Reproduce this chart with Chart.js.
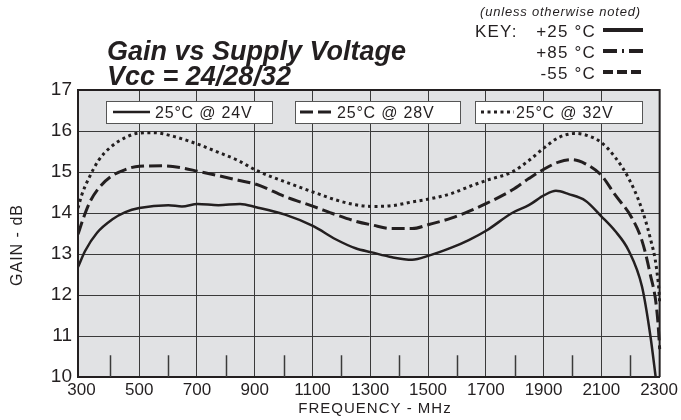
<!DOCTYPE html>
<html>
<head>
<meta charset="utf-8">
<script src="https://cdn.jsdelivr.net/npm/chart.js@4/dist/chart.umd.min.js"></script>
<style>
  body { margin: 0; background: #ffffff; }
  #chart { display: block; }
</style>
</head>
<body>
<canvas id="chart" width="681" height="420"></canvas>
<script>
// tick labels
var xTicks = [300, 500, 700, 900, 1100, 1300, 1500, 1700, 1900, 2100, 2300];
var xMinorTicks = [400, 600, 800, 1000, 1200, 1400, 1600, 1800, 2000, 2200];
var yTicks = [10, 11, 12, 13, 14, 15, 16, 17];

var seriesNames = ["25°C @ 24V", "25°C @ 28V", "25°C @ 32V"];

// 24V (solid)
var freq24 = [288, 313, 354, 406, 452, 500, 601, 648, 702, 774, 849, 905, 1005, 1103, 1180, 1249, 1305, 1376, 1445, 1503, 1583, 1641, 1704, 1791, 1849, 1904, 1943, 1987, 2045, 2100, 2148, 2195, 2241, 2270, 2290];
var gain24 = [12.68, 13.08, 13.52, 13.84, 14.02, 14.12, 14.19, 14.16, 14.22, 14.19, 14.22, 14.14, 13.96, 13.68, 13.36, 13.14, 13.04, 12.92, 12.86, 12.96, 13.16, 13.34, 13.58, 14.00, 14.19, 14.44, 14.54, 14.46, 14.30, 13.92, 13.56, 13.08, 12.20, 11.00, 9.9];

// 28V (dashed)
var freq28 = [288, 307, 330, 359, 400, 452, 500, 578, 648, 702, 774, 843, 905, 1005, 1103, 1180, 1249, 1305, 1376, 1445, 1503, 1583, 1641, 1704, 1791, 1849, 1904, 1952, 1998, 2045, 2100, 2148, 2206, 2241, 2269, 2292, 2302, 2306];
var gain28 = [13.48, 13.88, 14.28, 14.60, 14.88, 15.06, 15.14, 15.15, 15.10, 15.02, 14.91, 14.80, 14.70, 14.40, 14.16, 13.96, 13.80, 13.71, 13.62, 13.62, 13.72, 13.88, 14.04, 14.24, 14.56, 14.84, 15.08, 15.24, 15.30, 15.20, 14.92, 14.44, 13.88, 13.32, 12.52, 11.64, 10.68, 10.0];

// 32V (dotted)
var freq32 = [288, 301, 325, 359, 400, 452, 500, 549, 613, 702, 774, 843, 905, 1005, 1103, 1180, 1249, 1305, 1376, 1445, 1503, 1583, 1641, 1704, 1791, 1849, 1904, 1952, 2010, 2056, 2100, 2148, 2195, 2235, 2269, 2292, 2302, 2310];
var gain32 = [14.12, 14.44, 14.84, 15.28, 15.60, 15.84, 15.95, 15.96, 15.88, 15.68, 15.48, 15.28, 15.04, 14.76, 14.51, 14.32, 14.20, 14.16, 14.18, 14.27, 14.34, 14.48, 14.64, 14.80, 15.00, 15.28, 15.60, 15.84, 15.94, 15.88, 15.72, 15.36, 14.84, 14.20, 13.40, 12.60, 11.80, 10.0];

var FONT = "'Liberation Sans', Arial, Helvetica, sans-serif";
var INK = "#231f20";

function pts(xs, ys) {
  return xs.map(function(x, i) { return {x: x, y: ys[i]}; });
}

var dashes = [[], [13, 5], [3, 3.5]];

var decor = {
  id: "decor",
  beforeDraw: function(chart) {
    var c = chart.ctx, a = chart.chartArea;
    c.save();
    c.fillStyle = "#e1e2e4";
    c.fillRect(a.left, a.top, a.right - a.left, a.bottom - a.top);
    c.restore();
  },
  beforeDatasetsDraw: function(chart) {
    var c = chart.ctx, a = chart.chartArea;
    var xs = chart.scales.x, ys = chart.scales.y;
    c.save();
    // minor ticks along the bottom
    c.strokeStyle = "#3a3a3a";
    c.lineWidth = 1.5;
    xMinorTicks.forEach(function(v) {
      var px = Math.round(xs.getPixelForValue(v)) + 0.5;
      c.beginPath();
      c.moveTo(px, a.bottom);
      c.lineTo(px, ys.getPixelForValue(10.53));
      c.stroke();
    });
    // top + right border
    c.strokeStyle = INK;
    c.lineWidth = 2;
    c.beginPath();
    c.moveTo(a.left, a.top);
    c.lineTo(a.right, a.top);
    c.lineTo(a.right, a.bottom);
    c.stroke();

    // legend boxes
    var boxes = [[106, 272, 113, 150, 155], [295, 460, 300, 336, 337], [475, 642, 481, 514, 516]];
    boxes.forEach(function(b, i) {
      c.fillStyle = "#ffffff";
      c.fillRect(b[0], 101, b[1] - b[0], 22);
      c.strokeStyle = "#555555";
      c.lineWidth = 1;
      c.strokeRect(b[0] + 0.5, 101.5, b[1] - b[0], 22);
      c.strokeStyle = INK;
      c.lineWidth = i === 0 ? 2.5 : 3;
      c.setLineDash(dashes[i]);
      c.beginPath();
      c.moveTo(b[2], 112);
      c.lineTo(b[3], 112);
      c.stroke();
      c.setLineDash([]);
      c.fillStyle = INK;
      c.font = "16px " + FONT;
      c.letterSpacing = "0.8px";
      c.textBaseline = "alphabetic";
      c.textAlign = "left";
      c.fillText(seriesNames[i], b[4], 118);
    });
    c.restore();
  },
  afterDraw: function(chart) {
    var c = chart.ctx;
    c.save();
    c.fillStyle = INK;
    c.textBaseline = "alphabetic";
    // title
    c.font = "italic bold 27px " + FONT;
    c.textAlign = "left";
    c.letterSpacing = "0px";
    c.fillText("Gain vs Supply Voltage", 107, 60);
    c.fillText("Vcc = 24/28/32", 107, 85);
    // key
    c.font = "italic 13px " + FONT;
    c.letterSpacing = "0.8px";
    c.fillText("(unless otherwise noted)", 480, 16);
    c.font = "17px " + FONT;
    c.letterSpacing = "1.2px";
    c.fillText("KEY:", 475, 37);
    c.textAlign = "right";
    c.fillText("+25 °C", 596, 37);
    c.fillText("+85 °C", 596, 58);
    c.fillText("-55 °C", 596, 79);
    var keyDash = [[], [14, 5, 2, 5], [10, 4]];
    var keyY = [30, 51, 72];
    c.strokeStyle = INK;
    c.lineWidth = 4;
    keyDash.forEach(function(d, i) {
      c.setLineDash(d);
      c.beginPath();
      c.moveTo(603, keyY[i]);
      c.lineTo(643, keyY[i]);
      c.stroke();
    });
    c.setLineDash([]);
    // axis titles
    c.textAlign = "center";
    c.font = "15px " + FONT;
    c.letterSpacing = "1px";
    c.fillText("FREQUENCY - MHz", 375, 413);
    c.translate(18, 245);
    c.rotate(-Math.PI / 2);
    c.textBaseline = "middle";
    c.font = "16px " + FONT;
    c.fillText("GAIN - dB", 0, 0);
    c.restore();
  }
};

var ctx = document.getElementById("chart");
new Chart(ctx, {
  type: "line",
  data: {
    datasets: [
      {label: seriesNames[0], data: pts(freq24, gain24), borderDash: dashes[0], borderWidth: 2.5},
      {label: seriesNames[1], data: pts(freq28, gain28), borderDash: dashes[1], borderWidth: 3},
      {label: seriesNames[2], data: pts(freq32, gain32), borderDash: dashes[2], borderWidth: 3}
    ].map(function(d) {
      d.borderColor = INK;
      d.pointRadius = 0;
      d.fill = false;
      d.cubicInterpolationMode = "monotone";
      d.borderCapStyle = "butt";
      d.clip = {left: 0, top: 0, right: 5, bottom: 0};
      return d;
    })
  },
  options: {
    responsive: false,
    animation: false,
    layout: {padding: {top: 90, right: 19, left: 0, bottom: 0}},
    plugins: {legend: {display: false}, tooltip: {enabled: false}},
    scales: {
      x: {
        type: "linear",
        min: 288,
        max: 2302,
        afterBuildTicks: function(s) { s.ticks = xTicks.map(function(v) { return {value: v}; }); },
        afterFit: function(s) { s.height = 43; },
        grid: {
          color: function(c) {
            return c.tick && (c.tick.value === 300 || c.tick.value === 2300) ? "rgba(0,0,0,0)" : "#3a3a3a";
          },
          lineWidth: 1,
          drawTicks: false
        },
        border: {display: true, color: INK, width: 2},
        ticks: {
          font: {family: FONT, size: 17}, color: INK, padding: 3, maxRotation: 0, autoSkip: false,
          callback: function(v) { return String(v); }
        }
      },
      y: {
        min: 10,
        max: 17,
        afterBuildTicks: function(s) { s.ticks = yTicks.map(function(v) { return {value: v}; }); },
        afterFit: function(s) { s.width = 78; },
        grid: {color: "#3a3a3a", lineWidth: 1, drawTicks: false},
        border: {display: true, color: INK, width: 2},
        ticks: {font: {family: FONT, size: 19}, color: INK, padding: 6}
      }
    }
  },
  plugins: [decor]
});
</script>
</body>
</html>
